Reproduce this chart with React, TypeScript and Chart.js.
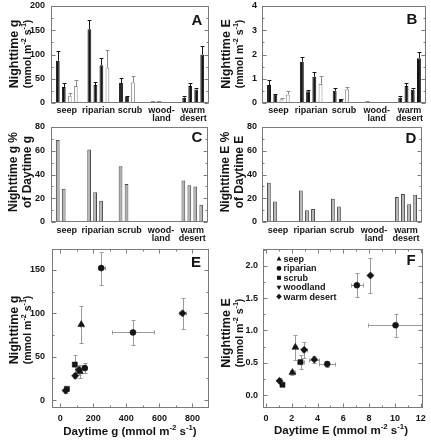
import React, { useEffect, useRef } from 'react';
import { Chart, registerables } from 'chart.js';

Chart.register(...registerables);

const FONT = "'Liberation Sans', Arial, Helvetica, sans-serif";
const INK = '#141414';

// ---------------- data ----------------
const categories: (string | string[])[] = ['seep', 'riparian', 'scrub', ['wood-', 'land'], ['warm', 'desert']];

// Panel A: nighttime g (mmol m-2 s-1), up to four species per vegetation type
const nightG1 = [87, 152, 41, 4, 11];
const nightG2 = [33, 37, 13, 4, 35];
const nightG3 = [15, 78, 43, null, 28];
const nightG4 = [35, 73, null, null, 100];
const nightGSe1 = [21, 19, 11, 1, 3];
const nightGSe2 = [8, 6, 1, 1, 6];
const nightGSe3 = [5, 14, 12, null, 3];
const nightGSe4 = [13, 36, null, null, 18];

// Panel B: nighttime E (mmol m-2 s-1)
const nightE1 = [0.74, 1.7, 0.51, 0.05, 0.22];
const nightE2 = [0.35, 0.48, 0.16, 0.04, 0.7];
const nightE3 = [0.15, 1.08, 0.57, null, 0.55];
const nightE4 = [0.35, 0.78, null, null, 1.85];
const nightESe1 = [0.19, 0.19, 0.11, 0.02, 0.05];
const nightESe2 = [0.04, 0.05, 0.02, 0.01, 0.12];
const nightESe3 = [0.04, 0.18, 0.1, null, 0.05];
const nightESe4 = [0.13, 0.33, null, null, 0.27];

// which bars are filled (black) vs open (white)
const filled1 = [true, true, true, false, true];
const filled2 = [true, true, true, false, true];
const filled3 = [false, true, false, false, true];
const filled4 = [false, false, false, false, true];

// Panel C: nighttime g as % of daytime g
const pctG1 = [69, 61, 47, null, 35];
const pctG2 = [28, 25, 32, null, 31];
const pctG3 = [null, 18, null, null, 30];
const pctG4 = [null, null, null, null, 14.5];
// Panel D: nighttime E as % of daytime E
const pctE1 = [33, 26.5, 19.5, null, 21];
const pctE2 = [17.3, 10, 13, null, 23.5];
const pctE3 = [null, 11, null, null, 15];
const pctE4 = [null, null, null, null, 23];

// Panels E, F: scatter of species means
const vegTypes = ['seep', 'riparian', 'scrub', 'woodland', 'warm desert'];
const ptType = ['seep', 'seep', 'riparian', 'riparian', 'riparian', 'scrub', 'scrub', 'warm desert', 'warm desert', 'warm desert', 'warm desert'];
const dayG = [127, 118, 248, 148, 440, 88, 40, 32, 113, 90, 740];
const dayGSe = [8, 12, 20, 12, 125, 8, 3, 8, 15, 8, 22];
const nightGPt = [87, 33, 152, 37, 78, 41, 13, 11, 35, 28, 100];
const nightGPtSe = [21, 8, 19, 6, 14, 11, 1, 3, 6, 3, 18];
const dayE = [2.28, 2.05, 7.05, 4.75, 10.05, 2.68, 1.28, 1.05, 2.96, 3.75, 8.1];
const dayESe = [0.15, 0.2, 0.45, 0.6, 2.15, 0.3, 0.1, 0.12, 0.2, 0.4, 0.1];
const nightEPt = [0.74, 0.35, 1.7, 0.48, 1.08, 0.51, 0.16, 0.22, 0.7, 0.55, 1.85];
const nightEPtSe = [0.19, 0.04, 0.19, 0.05, 0.18, 0.11, 0.02, 0.04, 0.12, 0.05, 0.27];

// tick values
const gBarTicks = [0, 50, 100, 150, 200];
const eBarTicks = [0, 1, 2, 3, 4];
const pctTicks = [0, 20, 40, 60, 80];
const gScatterXTicks = [0, 200, 400, 600, 800];
const gScatterYTicks = [0, 50, 100, 150];
const eScatterXTicks = [0, 2, 4, 6, 8, 10, 12];
const eScatterYTicks = [0, 0.5, 1, 1.5, 2];

// ---------------- helpers ----------------
type Box = { left: number; top: number; w: number; h: number };
type Area = { l: number; t: number; r: number; b: number };

function minorOf(t: number[], min: number, max: number) {
  const step = t[1] - t[0];
  const out: number[] = [];
  for (let v = t[0] - step / 2; v < max; v += step) if (v > min) out.push(v);
  return out;
}

function parseRich(s: string) {
  const parts: { t: string; sup: boolean }[] = [];
  const re = /\^\{([^}]*)\}/g;
  let last = 0;
  let m: any;
  while ((m = re.exec(s))) {
    if (m.index > last) parts.push({ t: s.slice(last, m.index), sup: false });
    parts.push({ t: m[1], sup: true });
    last = re.lastIndex;
  }
  if (last < s.length) parts.push({ t: s.slice(last), sup: false });
  return parts;
}

function drawRich(ctx: CanvasRenderingContext2D, s: string, x: number, y: number, size: number, rot: number) {
  const parts = parseRich(s);
  const f = (sz: number) => `bold ${sz}px ${FONT}`;
  const supSize = size * 0.68;
  let total = 0;
  const widths = parts.map((p) => {
    ctx.font = f(p.sup ? supSize : size);
    const w = ctx.measureText(p.t).width;
    total += w;
    return w;
  });
  ctx.save();
  ctx.translate(x, y);
  ctx.rotate((rot * Math.PI) / 180);
  ctx.textBaseline = 'alphabetic';
  ctx.textAlign = 'left';
  ctx.fillStyle = INK;
  let cx = -total / 2;
  const base = size * 0.36;
  parts.forEach((p, i) => {
    ctx.font = f(p.sup ? supSize : size);
    ctx.fillText(p.t, cx, p.sup ? base - size * 0.42 : base);
    cx += widths[i];
  });
  ctx.restore();
}

function drawSym(ctx: CanvasRenderingContext2D, style: string, x: number, y: number, r: number, rot: number) {
  ctx.save();
  ctx.translate(x, y);
  ctx.rotate((rot * Math.PI) / 180);
  ctx.beginPath();
  if (style === 'triangle') {
    ctx.moveTo(0, -r);
    ctx.lineTo(r * 0.866, r * 0.5);
    ctx.lineTo(-r * 0.866, r * 0.5);
    ctx.closePath();
  } else if (style === 'rect') {
    const s = r * 0.72;
    ctx.rect(-s, -s, 2 * s, 2 * s);
  } else if (style === 'rectRot') {
    ctx.moveTo(0, -r);
    ctx.lineTo(r, 0);
    ctx.lineTo(0, r);
    ctx.lineTo(-r, 0);
    ctx.closePath();
  } else {
    ctx.arc(0, 0, r * 0.85, 0, Math.PI * 2);
  }
  ctx.fillStyle = INK;
  ctx.fill();
  ctx.restore();
}

const fixY = (w: number) => (s: any) => {
  s.width = w;
  s.paddingTop = 0; s.paddingBottom = 0; s.paddingLeft = 0; s.paddingRight = 0;
};
const fixX = (h: number) => (s: any) => {
  s.height = h;
  s.paddingTop = 0; s.paddingBottom = 0; s.paddingLeft = 0; s.paddingRight = 0;
};

const px = (scale: any, v: number) => scale.getPixelForValue(v);

// ---------------- plugins ----------------
const framePlugin = {
  id: 'frame',
  afterDatasetsDraw(chart: any, _a: any, o: any) {
    const { ctx, chartArea: a, scales } = chart;
    const x0 = Math.round(a.left) + 0.5, x1 = Math.round(a.right) - 0.5;
    const y0 = Math.round(a.top) + 0.5, y1 = Math.round(a.bottom) - 0.5;
    ctx.save();
    ctx.strokeStyle = o.color;
    ctx.lineWidth = 1;
    ctx.strokeRect(x0, y0, x1 - x0, y1 - y0);
    ctx.beginPath();
    const yt = (vals: number[], len: number) =>
      vals.forEach((v) => {
        const p = Math.round(px(scales.y, v)) + 0.5;
        ctx.moveTo(x0, p); ctx.lineTo(x0 + len, p);
        ctx.moveTo(x1, p); ctx.lineTo(x1 - len, p);
      });
    const xt = (vals: number[], len: number) =>
      vals.forEach((v) => {
        const p = Math.round(px(scales.x, v)) + 0.5;
        ctx.moveTo(p, y1); ctx.lineTo(p, y1 - len);
        ctx.moveTo(p, y0); ctx.lineTo(p, y0 + len);
      });
    yt(o.yMajor || [], 4);
    yt(o.yMinor || [], 2);
    if (o.xMajor) {
      xt(o.xMajor, 4);
      xt(o.xMinor || [], 2);
    }
    ctx.stroke();
    ctx.restore();
  },
};

const barErrPlugin = {
  id: 'barErr',
  afterDatasetsDraw(chart: any) {
    const { ctx, scales } = chart;
    ctx.save();
    ctx.lineWidth = 1;
    chart.data.datasets.forEach((ds: any, di: number) => {
      if (!ds.errors) return;
      const meta = chart.getDatasetMeta(di);
      meta.data.forEach((bar: any, i: number) => {
        const v = ds.data[i];
        const e = ds.errors[i];
        if (v == null || e == null) return;
        const yb = px(scales.y, v);
        const yt = Math.round(px(scales.y, v + e)) + 0.5;
        const x = Math.round(bar.x) + 0.5;
        const hw = bar.width / 2;
        ctx.strokeStyle = ds.errColors[i];
        ctx.beginPath();
        ctx.moveTo(x, yb);
        ctx.lineTo(x, yt);
        ctx.moveTo(x - hw, yt);
        ctx.lineTo(x + hw, yt);
        ctx.stroke();
      });
    });
    ctx.restore();
  },
};

const scatterErrPlugin = {
  id: 'scatterErr',
  beforeDatasetsDraw(chart: any, _a: any, o: any) {
    const { ctx, scales, chartArea: a } = chart;
    ctx.save();
    ctx.beginPath();
    ctx.rect(a.left, a.top, a.right - a.left, a.bottom - a.top);
    ctx.clip();
    ctx.strokeStyle = o.color;
    ctx.lineWidth = 1;
    ctx.beginPath();
    chart.data.datasets.forEach((ds: any) => {
      ds.data.forEach((p: any) => {
        const cx = Math.round(px(scales.x, p.x)) + 0.5;
        const cy = Math.round(px(scales.y, p.y)) + 0.5;
        const ya = Math.round(px(scales.y, p.y + p.ye)) + 0.5;
        const yb = Math.round(px(scales.y, p.y - p.ye)) + 0.5;
        const xa = Math.round(px(scales.x, p.x - p.xe)) + 0.5;
        const xb = Math.round(px(scales.x, p.x + p.xe)) + 0.5;
        const c = 2;
        ctx.moveTo(cx, ya); ctx.lineTo(cx, yb);
        ctx.moveTo(cx - c, ya); ctx.lineTo(cx + c, ya);
        ctx.moveTo(cx - c, yb); ctx.lineTo(cx + c, yb);
        ctx.moveTo(xa, cy); ctx.lineTo(xb, cy);
        ctx.moveTo(xa, cy - c); ctx.lineTo(xa, cy + c);
        ctx.moveTo(xb, cy - c); ctx.lineTo(xb, cy + c);
      });
    });
    ctx.stroke();
    ctx.restore();
  },
};

const textPlugin = {
  id: 'texts',
  afterDraw(chart: any, _a: any, o: any) {
    const { ctx } = chart;
    const bx = o.box.left, by = o.box.top;
    (o.items || []).forEach((it: any) => drawRich(ctx, it.t, it.x - bx, it.y - by, it.size, it.rot || 0));
    if (o.legend) {
      const L = o.legend;
      chart.data.datasets.forEach((ds: any, k: number) => {
        const y = L.y + k * L.dy - by;
        drawSym(ctx, ds.pointStyle, L.x - bx, y, 2.8, ds.pointRotation || 0);
        ctx.save();
        ctx.font = `bold ${L.size}px ${FONT}`;
        ctx.fillStyle = INK;
        ctx.textAlign = 'left';
        ctx.textBaseline = 'middle';
        ctx.fillText(ds.label, L.x - bx + 4.5, y + 0.5);
        ctx.restore();
      });
    }
  },
};

const tickFont = { family: FONT, size: 9, weight: 'bold' as const };

// ---------------- configs ----------------
function barConfig(p: any) {
  const { box, area } = p;
  return {
    type: 'bar',
    data: {
      labels: categories,
      datasets: p.series.map((d: any, i: number) => ({
        data: d,
        backgroundColor: p.fills[i],
        borderColor: p.borders[i],
        borderWidth: 1,
        errors: p.errors ? p.errors[i] : null,
        errColors: p.errColors ? p.errColors[i] : null,
        categoryPercentage: 0.76,
        barPercentage: 0.63,
      })),
    },
    options: {
      responsive: false,
      animation: false,
      events: [],
      layout: { padding: { left: 0, top: area.t - box.top, right: box.left + box.w - area.r, bottom: 0 } },
      scales: {
        x: {
          type: 'category',
          offset: true,
          grid: { display: false, drawTicks: false },
          border: { display: false },
          ticks: { padding: p.labelPad, font: { ...tickFont, lineHeight: 0.95 }, color: INK, maxRotation: 0, autoSkip: false },
          afterFit: fixX(box.top + box.h - area.b),
        },
        y: {
          type: 'linear',
          min: 0,
          max: p.yMax,
          grid: { display: false, drawTicks: false },
          border: { display: false },
          ticks: { padding: p.yPad, font: tickFont, color: INK },
          afterBuildTicks: (s: any) => { s.ticks = p.yTicks.map((v: number) => ({ value: v })); },
          afterFit: fixY(area.l - box.left),
        },
      },
      plugins: {
        legend: { display: false },
        tooltip: { enabled: false },
        frame: { color: '#7a7a7a', yMajor: p.yTicks, yMinor: minorOf(p.yTicks, 0, p.yMax) },
        texts: { box, items: p.texts },
      },
    },
    plugins: [barErrPlugin, framePlugin, textPlugin],
  };
}

const symStyle: Record<string, { style: string; rot: number; r: number }> = {
  seep: { style: 'triangle', rot: 0, r: 4 },
  riparian: { style: 'circle', rot: 0, r: 3 },
  scrub: { style: 'rect', rot: 0, r: 3.6 },
  woodland: { style: 'triangle', rot: 180, r: 4 },
  'warm desert': { style: 'rectRot', rot: 0, r: 3.6 },
};

function scatterConfig(p: any) {
  const { box, area } = p;
  return {
    type: 'scatter',
    data: {
      datasets: vegTypes.map((t) => {
        const st = symStyle[t];
        const idx = ptType.map((tt, i) => (tt === t ? i : -1)).filter((i) => i >= 0);
        return {
          label: t,
          data: idx.map((i) => ({ x: p.xs[i], y: p.ys[i], xe: p.xe[i], ye: p.ye[i] })),
          pointStyle: st.style,
          pointRotation: st.rot,
          pointRadius: st.r,
          pointBackgroundColor: INK,
          pointBorderColor: INK,
          pointBorderWidth: 0.5,
        };
      }),
    },
    options: {
      responsive: false,
      animation: false,
      events: [],
      layout: { padding: { left: 0, top: area.t - box.top, right: box.left + box.w - area.r, bottom: 0 } },
      scales: {
        x: {
          type: 'linear',
          min: p.xMin,
          max: p.xMax,
          grid: { display: false, drawTicks: false },
          border: { display: false },
          ticks: { padding: 5, font: tickFont, color: INK },
          afterBuildTicks: (s: any) => { s.ticks = p.xTicks.map((v: number) => ({ value: v })); },
          afterFit: fixX(box.top + box.h - area.b),
        },
        y: {
          type: 'linear',
          min: p.yMin,
          max: p.yMax,
          grid: { display: false, drawTicks: false },
          border: { display: false },
          ticks: { padding: p.yPad, font: tickFont, color: INK, callback: p.yFmt },
          afterBuildTicks: (s: any) => { s.ticks = p.yTicks.map((v: number) => ({ value: v })); },
          afterFit: fixY(area.l - box.left),
        },
      },
      plugins: {
        legend: { display: false },
        tooltip: { enabled: false },
        frame: {
          color: '#7a7a7a',
          yMajor: p.yTicks,
          yMinor: minorOf(p.yTicks, p.yMin, p.yMax),
          xMajor: p.xTicks,
          xMinor: minorOf(p.xTicks, p.xMin, p.xMax),
        },
        scatterErr: { color: '#9a9a9a' },
        texts: { box, items: p.texts, legend: p.legend },
      },
    },
    plugins: [scatterErrPlugin, framePlugin, textPlugin],
  };
}

const BLACK = INK;
const WHITE = '#ffffff';
const OPEN_EDGE = '#8a8a8a';
const GRAY = '#b2b2b2';
const GRAY_EDGE = '#4a4a4a';
const fillOf = (f: boolean[]) => f.map((b) => (b ? BLACK : WHITE));
const edgeOf = (f: boolean[]) => f.map((b) => (b ? BLACK : OPEN_EDGE));
const filledSlots = [filled1, filled2, filled3, filled4];
const grayFills = [0, 1, 2, 3].map(() => categories.map(() => GRAY));
const grayEdges = [0, 1, 2, 3].map(() => categories.map(() => GRAY_EDGE));
const UNIT = '(mmol m^{-2} s^{-1})';

const boxes: Record<string, Box> = {
  A: { left: 0, top: 0, w: 215, h: 124 },
  B: { left: 215, top: 0, w: 216, h: 124 },
  C: { left: 0, top: 121, w: 215, h: 125 },
  D: { left: 215, top: 121, w: 216, h: 125 },
  E: { left: 0, top: 243, w: 215, h: 197 },
  F: { left: 215, top: 243, w: 216, h: 197 },
};
const areas: Record<string, Area> = {
  A: { l: 51, t: 6, r: 209, b: 103 },
  B: { l: 262, t: 6, r: 426, b: 103 },
  C: { l: 51, t: 127, r: 208, b: 222 },
  D: { l: 262, t: 127, r: 422, b: 222 },
  E: { l: 52, t: 249, r: 209, b: 408 },
  F: { l: 263, t: 249, r: 423, b: 408 },
};

const makers: Record<string, () => any> = {
  A: () =>
    barConfig({
      box: boxes.A, area: areas.A, yMax: 200, yTicks: gBarTicks, yPad: 6, labelPad: 3,
      series: [nightG1, nightG2, nightG3, nightG4],
      errors: [nightGSe1, nightGSe2, nightGSe3, nightGSe4],
      fills: filledSlots.map(fillOf), borders: filledSlots.map(edgeOf), errColors: filledSlots.map(edgeOf),
      texts: [
        { t: 'Nighttime g', x: 13, y: 54, size: 12.5, rot: -90 },
        { t: UNIT, x: 27, y: 54, size: 10.5, rot: -90 },
        { t: 'A', x: 197, y: 20, size: 15 },
      ],
    }),
  B: () =>
    barConfig({
      box: boxes.B, area: areas.B, yMax: 4, yTicks: eBarTicks, yPad: 5, labelPad: 3,
      series: [nightE1, nightE2, nightE3, nightE4],
      errors: [nightESe1, nightESe2, nightESe3, nightESe4],
      fills: filledSlots.map(fillOf), borders: filledSlots.map(edgeOf), errColors: filledSlots.map(edgeOf),
      texts: [
        { t: 'Nighttime E', x: 225, y: 54, size: 12.5, rot: -90 },
        { t: UNIT, x: 239, y: 54, size: 10.5, rot: -90 },
        { t: 'B', x: 412, y: 19, size: 15 },
      ],
    }),
  C: () =>
    barConfig({
      box: boxes.C, area: areas.C, yMax: 80, yTicks: pctTicks, yPad: 6, labelPad: 4,
      series: [pctG1, pctG2, pctG3, pctG4],
      fills: grayFills, borders: grayEdges,
      texts: [
        { t: 'Nighttime g %', x: 13, y: 172, size: 12, rot: -90 },
        { t: 'of Daytime g', x: 27, y: 172, size: 12, rot: -90 },
        { t: 'C', x: 197, y: 137, size: 15 },
      ],
    }),
  D: () =>
    barConfig({
      box: boxes.D, area: areas.D, yMax: 80, yTicks: pctTicks, yPad: 5, labelPad: 4,
      series: [pctE1, pctE2, pctE3, pctE4],
      fills: grayFills, borders: grayEdges,
      texts: [
        { t: 'Nighttime E %', x: 225, y: 172, size: 12, rot: -90 },
        { t: 'of Daytime E', x: 239, y: 172, size: 12, rot: -90 },
        { t: 'D', x: 411, y: 138, size: 15 },
      ],
    }),
  E: () =>
    scatterConfig({
      box: boxes.E, area: areas.E,
      xMin: -50, xMax: 900, yMin: -9, yMax: 174,
      xTicks: gScatterXTicks, yTicks: gScatterYTicks, yPad: 7,
      xs: dayG, xe: dayGSe, ys: nightGPt, ye: nightGPtSe,
      texts: [
        { t: 'Nighttime g', x: 13, y: 330, size: 12.5, rot: -90 },
        { t: UNIT, x: 27, y: 330, size: 10.5, rot: -90 },
        { t: 'Daytime g ' + UNIT, x: 130, y: 431, size: 11.5 },
        { t: 'E', x: 196, y: 262, size: 15 },
      ],
    }),
  F: () =>
    scatterConfig({
      box: boxes.F, area: areas.F,
      xMin: -0.23, xMax: 12.18, yMin: -0.2, yMax: 2.26,
      xTicks: eScatterXTicks, yTicks: eScatterYTicks, yPad: 5,
      yFmt: (v: any) => Number(v).toFixed(1),
      xs: dayE, xe: dayESe, ys: nightEPt, ye: nightEPtSe,
      texts: [
        { t: 'Nighttime E', x: 225, y: 333, size: 12.5, rot: -90 },
        { t: UNIT, x: 239, y: 333, size: 10.5, rot: -90 },
        { t: 'Daytime E ' + UNIT, x: 341, y: 430, size: 11.5 },
        { t: 'F', x: 411, y: 260, size: 15 },
      ],
      legend: { x: 279, y: 259, dy: 9.4, size: 9 },
    }),
};

function Panel({ id }: { id: string }) {
  const ref = useRef<HTMLCanvasElement>(null);
  const box = boxes[id];
  useEffect(() => {
    const chart = new Chart(ref.current as HTMLCanvasElement, makers[id]() as any);
    return () => chart.destroy();
  }, [id]);
  return (
    <canvas
      ref={ref}
      width={box.w}
      height={box.h}
      style={{ position: 'absolute', left: box.left, top: box.top, width: box.w, height: box.h }}
    />
  );
}

export default function App() {
  return (
    <div style={{ position: 'fixed', left: 0, top: 0, width: 431, height: 440, background: '#fff', overflow: 'hidden' }}>
      {['A', 'B', 'C', 'D', 'E', 'F'].map((id) => (
        <Panel key={id} id={id} />
      ))}
    </div>
  );
}
